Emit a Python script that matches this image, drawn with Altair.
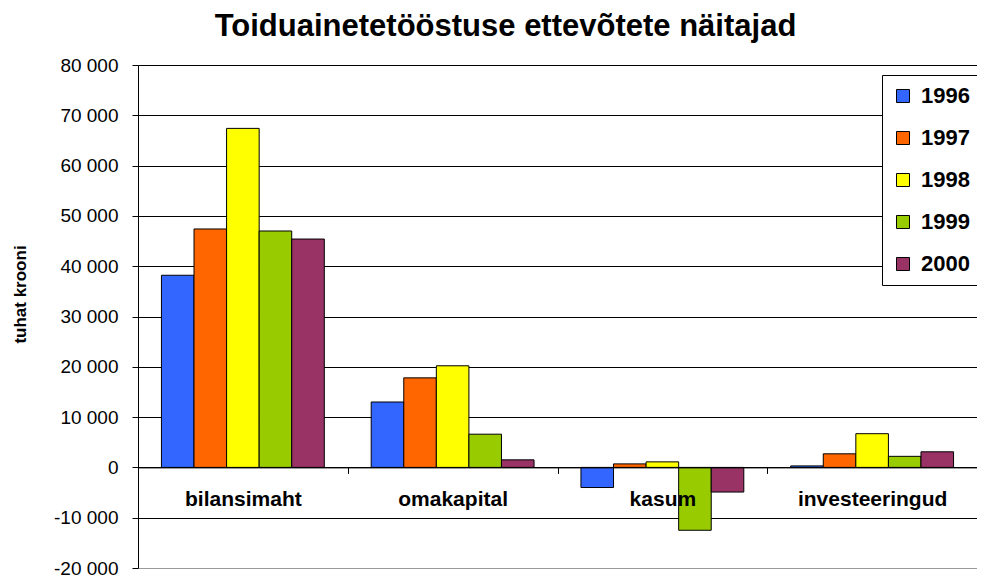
import altair as alt
import pandas as pd

categories = ["bilansimaht", "omakapital", "kasum", "investeeringud"]
years = ["1996", "1997", "1998", "1999", "2000"]
colors = ["#3366FF", "#FF6600", "#FFFF00", "#99CC00", "#993366"]

v1996 = [38200, 13000, -4000, 300]
v1997 = [47400, 17800, 700, 2700]
v1998 = [67400, 20200, 1100, 6700]
v1999 = [47000, 6600, -12500, 2200]
v2000 = [45400, 1500, -4900, 3100]
series = [v1996, v1997, v1998, v1999, v2000]

y_ticks = [-20000, -10000, 0, 10000, 20000, 30000, 40000, 50000, 60000, 70000, 80000]

rows = []
for yr, vals in zip(years, series):
    for cat, v in zip(categories, vals):
        rows.append({"kategooria": cat, "aasta": yr, "vaartus": v})
df = pd.DataFrame(rows)

W, H = 839, 503
FONT = "Liberation Sans"

chart = alt.Chart(df).mark_bar(stroke="black", strokeWidth=1).encode(
    x=alt.X(
        "kategooria:N",
        sort=categories,
        scale=alt.Scale(paddingInner=0, paddingOuter=0),
        axis=alt.Axis(
            title=None, orient="bottom", offset=-0.2 * H, zindex=1,
            domainColor="black", tickColor="black", tickSize=6, tickBand="extent",
            labelFontSize=21, labelFontWeight="bold", labelFont=FONT, labelColor="black",
            labelPadding=15, labelAngle=0, grid=False,
        ),
    ),
    xOffset=alt.XOffset("aasta:N", sort=years, scale=alt.Scale(paddingInner=0, paddingOuter=0.72)),
    y=alt.Y(
        "vaartus:Q",
        scale=alt.Scale(domain=[-20000, 80000], nice=False),
        axis=alt.Axis(
            values=y_ticks,
            labelExpr="replace(replace(format(datum.value, ','), ',', ' '), '\u2212', '-')",
            labelFontSize=19, labelFont=FONT, labelColor="black",
            tickColor="black", tickSize=6, labelPadding=14, domainColor="black",
            gridColor={"condition": {"test": "datum.value === -20000", "value": "#999999"}, "value": "black"},
            gridOpacity=1, gridWidth=1,
            title="tuhat krooni", titleFontSize=17, titleFont=FONT, titleFontWeight="bold",
            titleColor="black", titleX=-118, titleY=229, titleAngle=-90,
            titleAlign="center", titleBaseline="middle",
        ),
    ),
    color=alt.Color(
        "aasta:N",
        scale=alt.Scale(domain=years, range=colors),
        legend=alt.Legend(
            title=None, orient="none", legendX=744, legendY=10, padding=10,
            strokeColor="black", fillColor="white", symbolType="square", symbolSize=169,
            symbolStrokeColor="black", symbolStrokeWidth=1, labelFontSize=22,
            labelFontWeight="bold", labelFont=FONT, labelColor="black",
            rowPadding=20, labelOffset=7, cornerRadius=0,
        ),
    ),
).properties(
    width=W,
    height=H,
    autosize=alt.AutoSizeParams(type="none"),
    padding={"left": 130, "top": 57, "right": 0, "bottom": 10},
    title=alt.Title(
        "Toiduainetetööstuse ettevõtete näitajad",
        fontSize=31, font=FONT, fontWeight="bold", color="black",
        anchor="middle", frame="group", dx=-52, offset=13,
    ),
).configure_view(stroke=None).configure(background="white")

chart.save("out.html", embed_options={"renderer": "svg", "actions": False})
